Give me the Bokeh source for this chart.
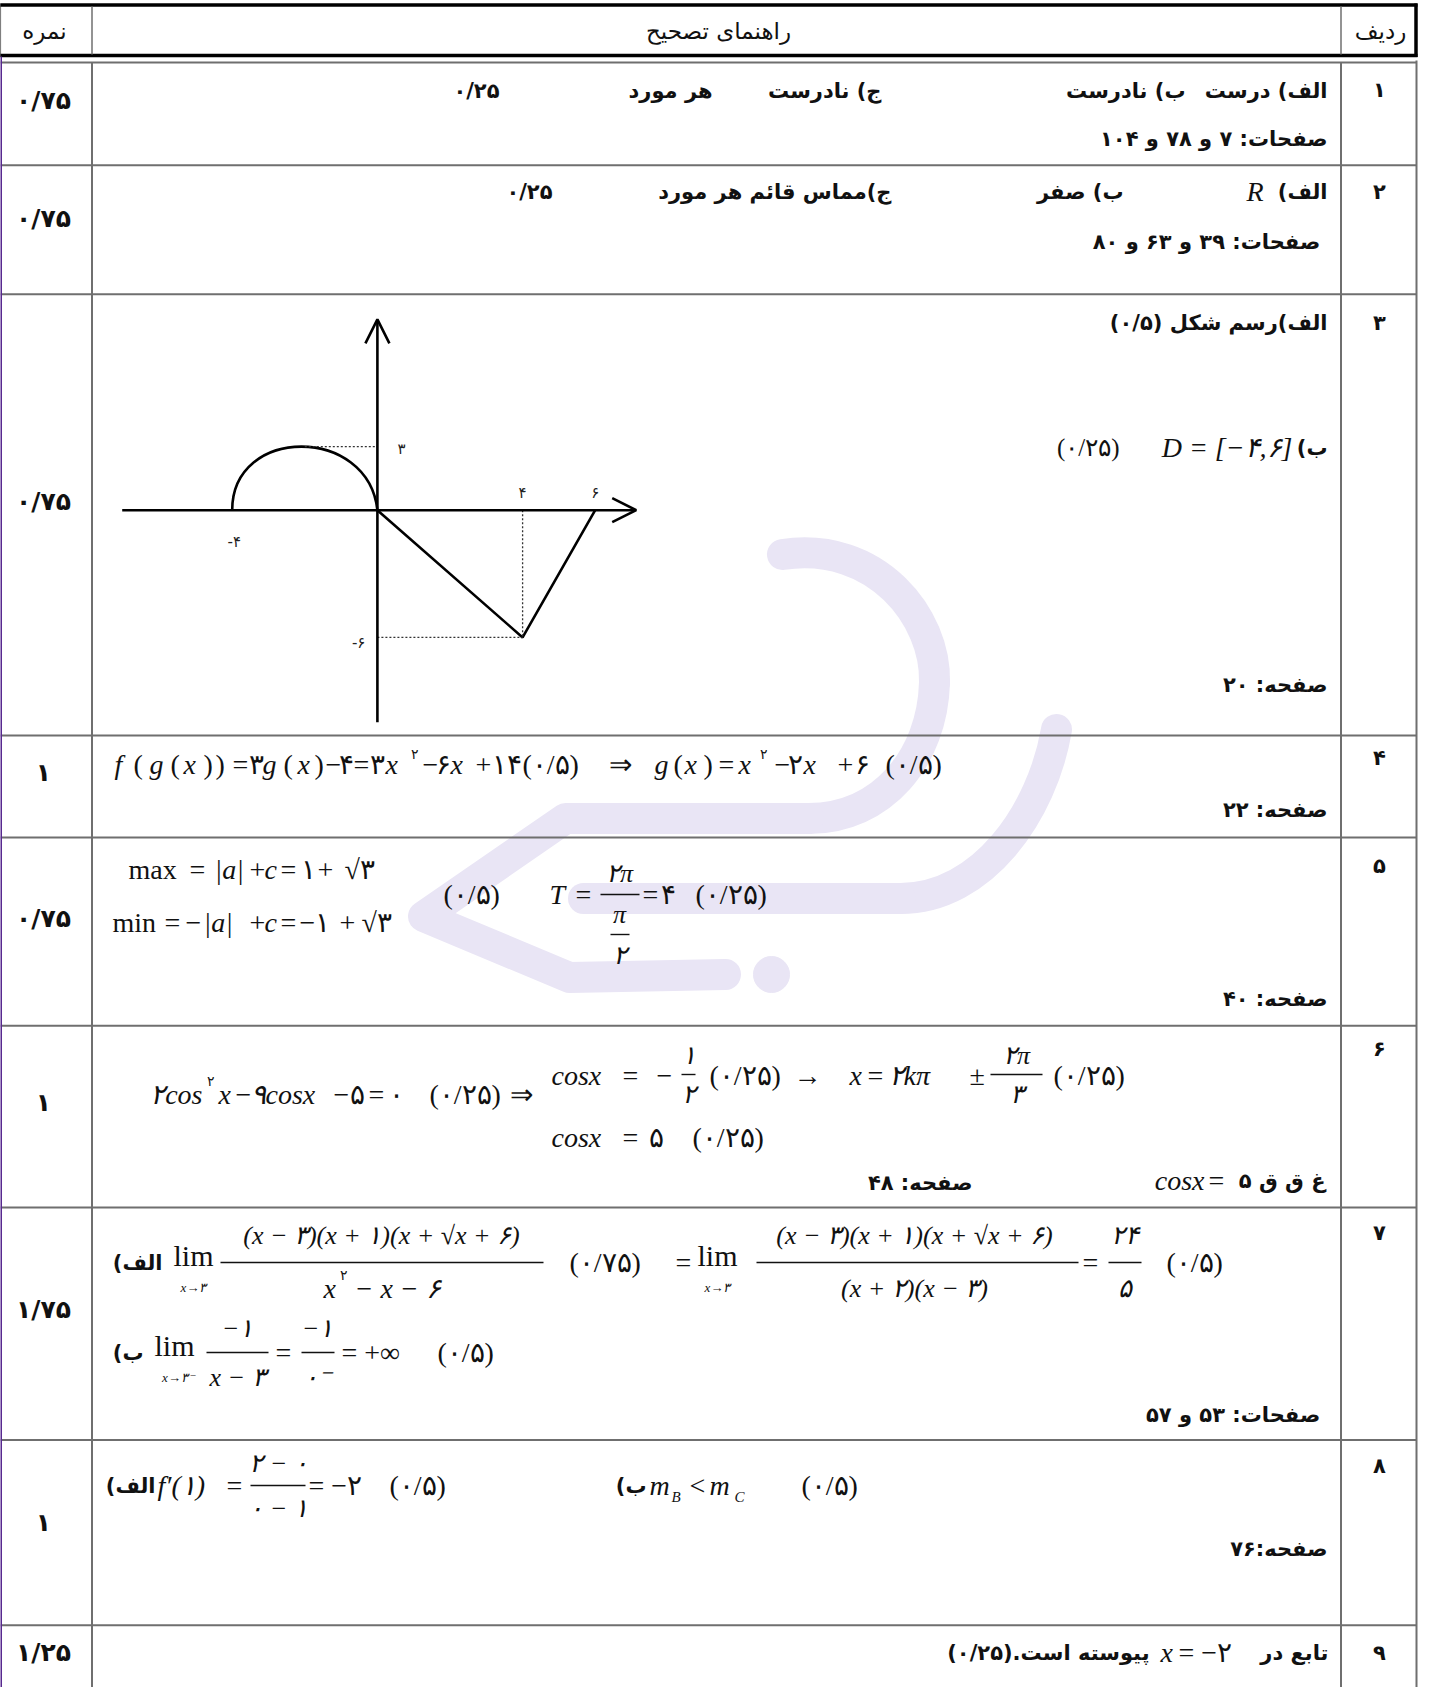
from bokeh.plotting import figure
from bokeh.models import Range1d, Arrow, OpenHead
from bokeh.core.properties import value
from bokeh.embed import file_html
from bokeh.resources import INLINE

# ------------------------------------------------------------------ data
# graph of question 3: an arch on [-4, 0] with height 3, then two line pieces
arch_x = [-4, 0]
arch_peak = 3
pieces_x = [0, 4, 6]
pieces_y = [0, -6, 0]
tick_x_vals = [-4, 4, 6]
tick_x_text = ["-۴", "۴", "۶"]
tick_y_vals = [3, -6]
tick_y_text = ["۳", "-۶"]

header = ["نمره", "راهنمای تصحیح", "ردیف"]
row_numbers = ["۱", "۲", "۳", "۴", "۵", "۶", "۷", "۸", "۹"]
row_scores = ["۰/۷۵", "۰/۷۵", "۰/۷۵", "۱", "۰/۷۵", "۱", "۱/۷۵", "۱", "۱/۲۵"]
page_refs = ["صفحات: ۷ و ۷۸ و ۱۰۴", "صفحات:  ۳۹ و ۶۳ و ۸۰", "صفحه: ۲۰", "صفحه: ۲۲",
             "صفحه: ۴۰", "صفحه: ۴۸", "صفحات:  ۵۳ و ۵۷", "صفحه:۷۶"]

# ------------------------------------------------------------------ layout
ROW_TOPS = [70, 172.7, 301.7, 743, 845, 1033.3, 1215, 1447.5, 1632.7]
ROW_NUM_Y = [97, 199, 330, 765, 873, 1056, 1240, 1473, 1660]
SCORE_Y = [108, 226, 509, 780, 926, 1110, 1317, 1530, 1660]
PAGE_REF_POS = [(1335, 146), (1335, 249), (1335, 692), (1335, 817), (1335, 1006),
                (980, 1190), (1335, 1422), (1335, 1556)]

FA = "DejaVu Sans"
MATH = "Liberation Serif"
RLE, PDF = "\u202b", "\u202c"
INK = "#111111"
GRID = "#6f6f6f"
WM = "#e9e5f5"
MS = 28  # math font size

p = figure(width=1421, height=1687, x_range=Range1d(8, 1429), y_range=Range1d(1695, 8),
           x_axis_type=None, y_axis_type=None, toolbar_location=None, output_backend="svg",
           min_border=0, outline_line_color=None, background_fill_color="white",
           border_fill_color="white")

# graph coordinate system (own ranges mapped onto the sketch area)
GX0, GSX = 384.9, 36.3
GY0, GSY = 517.7, 21.2
p.extra_x_ranges = {"g": Range1d((8 - GX0) / GSX, (1429 - GX0) / GSX)}
p.extra_y_ranges = {"g": Range1d(-(1695 - GY0) / GSY, (GY0 - 8) / GSY)}
G = dict(x_range_name="g", y_range_name="g")


def texts(items, size, font=FA, style="bold", align="right", color=INK, rtl=False, **kw):
    xs = [t[0] for t in items]
    ys = [t[1] for t in items]
    ts = [(RLE + t[2] + PDF) if rtl else t[2] for t in items]
    p.text(x=xs, y=ys, text=ts, text_font=value(font), text_font_size=value(f"{size}px"),
           text_font_style=style, text_align=align, text_baseline="middle",
           text_color=color, **kw)


def segs(lst, color, width, dash="solid", **kw):
    p.segment(x0=[s[0] for s in lst], y0=[s[1] for s in lst],
              x1=[s[2] for s in lst], y1=[s[3] for s in lst],
              line_color=color, line_width=width, line_dash=dash, **kw)


# ------------------------------------------------------------------ watermark
p.bezier(x0=[790, 942, 1064], y0=[562, 690, 737], x1=[942, 816, 908], y1=[690, 826, 906],
         cx0=[884, 940, 1050], cy0=[548, 765, 820], cx1=[944, 890, 990], cy1=[625, 826, 906],
         line_color=WM, line_width=31, line_cap="round")
p.line([816, 573, 431, 577, 733], [826, 826, 924, 985, 982], line_color=WM, line_width=31,
       line_cap="round", line_join="round")
p.line([908, 591], [906, 906], line_color=WM, line_width=31, line_cap="round")
p.scatter([779], [982], size=36, color=WM)

# ------------------------------------------------------------------ table
segs([(0, 1.8, 1437, 1.8)], "black", 4)
segs([(5, 12.5, 1425, 12.5), (5, 63, 1425, 63), (6.8, 11, 6.8, 64.5), (1423.5, 11, 1423.5, 64.5)],
     "black", 3.5)
segs([(99.5, 14, 99.5, 62), (1348.5, 14, 1348.5, 62)], GRID, 1.5)
segs([(8, y, 1424, y) for y in ROW_TOPS], GRID, 2)
segs([(99.5, 70, 99.5, 1703), (1348.5, 70, 1348.5, 1703), (1424, 68, 1424, 1703)], GRID, 2)
segs([(7, 64, 7, 1703)], "#57298f", 5)

# ------------------------------------------------------------------ graph (question 3)
peak_x = (arch_x[0] + arch_x[1]) / 2
ctrl = arch_peak * 4 / 3
p.bezier(x0=[arch_x[0]], y0=[0], x1=[arch_x[1]], y1=[0], cx0=[arch_x[0]], cy0=[ctrl],
         cx1=[arch_x[1] - 0.25], cy1=[ctrl], line_color="black", line_width=2.6, **G)
p.line(pieces_x, pieces_y, line_color="black", line_width=2.6, **G)
p.segment(x0=[peak_x, pieces_x[1], 0], y0=[arch_peak, 0, pieces_y[1]],
          x1=[0, pieces_x[1], pieces_x[1]], y1=[arch_peak, pieces_y[1], pieces_y[1]],
          line_color="#333333", line_width=1.3, line_dash="2 2", **G)
for xs, ys, xe, ye in [(-7.03, 0, 7.13, 0), (0, -10.0, 0, 9.0)]:
    p.add_layout(Arrow(x_start=xs, y_start=ys, x_end=xe, y_end=ye, line_width=2.6,
                       end=OpenHead(size=24, line_width=2.6), **G))
p.text(x=tick_x_vals, y=[0] * 3, text=tick_x_text, x_offset=[2, 0, 0], y_offset=[32, -17, -17],
       text_font=value(FA), text_font_size=value("15px"), text_align="center",
       text_baseline="middle", text_color="#222222", **G)
p.text(x=[0, 0], y=tick_y_vals, text=tick_y_text, x_offset=[20, -12], y_offset=[2, 6],
       text_font=value(FA), text_font_size=value("15px"), text_align=["left", "right"],
       text_baseline="middle", text_color="#222222", **G)

# ------------------------------------------------------------------ header, numbers, scores
texts([(52, 38, header[0]), (726, 38, header[1]), (1388, 38, header[2])], 23,
      style="normal", align="center", rtl=True)
texts([(1387, y, t) for y, t in zip(ROW_NUM_Y, row_numbers)], 21, align="center")
texts([(51, y, t) for y, t in zip(SCORE_Y, row_scores)], 25, align="center")
texts([(x, y, t) for (x, y), t in zip(PAGE_REF_POS, page_refs)], 21, rtl=True)

# ------------------------------------------------------------------ persian answer text
texts([
    (1335, 98, "الف) درست"), (1193, 98, "ب) نادرست"), (889, 98, "ج) نادرست"),
    (720, 98, "هر مورد"), (507, 98, "۰/۲۵"),
    (1335, 199, "الف)"), (1131, 199, "ب) صفر"), (899, 199, "ج)مماس قائم هر مورد"),
    (560, 199, "۰/۲۵"),
    (1335, 330, "الف)رسم شکل (۰/۵)"), (1335, 455, "ب)"),
    (1333, 1188, "غ ق ق ۵"),
    (170, 1270, "الف)"), (151, 1360, "ب)"),
    (163, 1493, "الف)"), (654, 1493, "ب)"),
    (1336, 1660, "تابع در"), (1157, 1660, "پیوسته است.(۰/۲۵)"),
], 21, rtl=True)

# ------------------------------------------------------------------ math tokens
IT_L = [
    # row 4
    (122, 772, "f"), (157, 772, "g"), (191, 772, "x"), (270, 772, "g"), (305, 772, "x"),
    (393, 772, "x"), (458, 772, "x"), (662, 772, "g"), (692, 772, "x"), (746, 772, "x"),
    (811, 772, "x"),
    # row 5
    (222, 877, "|a|"), (272, 877, "c"), (211, 930, "|a|"), (272, 930, "c"), (557, 902, "T"),
    # row 6
    (226, 1102, "x"), (258, 1102, "۹cosx"), (559, 1083, "cosx"), (857, 1083, "x"),
    (896, 1083, "۲kπ"), (559, 1145, "cosx"),
    # row 7
    (331, 1296, "x"), (362, 1296, "− x − ۶"),
    # row 8
    (165, 1493, "f′(۱)"), (657, 1493, "m"), (717, 1493, "m"),
    # row 9
    (1168, 1660, "x"),
]
UP_L = [
    # row 4
    (141, 772, "("), (178, 772, "("), (211, 772, ")"), (223, 772, ")"), (240, 772, "="),
    (256, 772, "۳"), (291, 772, "("), (322, 772, ")"), (333, 772, "−"), (346, 772, "۴"),
    (361, 772, "="), (377, 772, "۳"), (430, 772, "−"), (443, 772, "۶"), (483, 772, "+"),
    (499, 772, "۱۴"), (530, 772, "(۰/۵)"), (616, 772, "⇒"), (681, 772, "("), (711, 772, ")"),
    (726, 772, "="), (782, 772, "−"), (795, 772, "۲"), (845, 772, "+"), (862, 772, "۶"),
    (893, 772, "(۰/۵)"),
    # row 5
    (136, 877, "max"), (197, 877, "="), (257, 877, "+"), (288, 877, "="), (308, 877, "۱"),
    (325, 877, "+"), (352, 877, "√۳"),
    (120, 930, "min"), (172, 930, "="), (193, 930, "−"), (257, 930, "+"), (288, 930, "="),
    (307, 930, "−۱"), (347, 930, "+"), (369, 930, "√۳"),
    (451, 902, "(۰/۵)"), (583, 902, "="), (650, 902, "="), (668, 902, "۴"), (703, 902, "(۰/۲۵)"),
    # row 6
    (243, 1102, "−"), (341, 1102, "−"), (357, 1102, "۵"), (376, 1102, "="), (396, 1102, "۰"),
    (437, 1102, "(۰/۲۵)"), (517, 1102, "⇒"),
    (630, 1083, "="), (664, 1083, "−"), (717, 1083, "(۰/۲۵)"), (801, 1083, "→"),
    (875, 1083, "="), (977, 1083, "±"), (1061, 1083, "(۰/۲۵)"),
    (630, 1145, "="), (656, 1145, "۵"), (700, 1145, "(۰/۲۵)"),
    (1216, 1188, "="),
    # row 7
    (577, 1270, "(۰/۷۵)"), (683, 1270, "="), (1090, 1270, "="), (1174, 1270, "(۰/۵)"),
    (283, 1360, "="), (349, 1360, "= +∞"), (445, 1360, "(۰/۵)"),
    # row 8
    (234, 1493, "="), (316, 1493, "= −۲"), (397, 1493, "(۰/۵)"), (697, 1493, "<"),
    (809, 1493, "(۰/۵)"),
    # row 9
    (1186, 1660, "= −۲"),
]
texts(IT_L, MS, font=MATH, style="italic", align="left")
texts(UP_L, MS, font=MATH, style="normal", align="left")
texts([(210, 1102, "۲cos"), (1212, 1188, "cosx")], MS, font=MATH, style="italic", align="right")
texts([(1300, 455, "D = [−۴,۶]"), (1271, 199, "R")], MS, font=MATH, style="italic", align="right")
texts([(1127, 455, "(۰/۲۵)")], 25, font=MATH, style="normal", align="right")
texts([(181, 1263, "lim"), (705, 1263, "lim"), (162, 1353, "lim")], 30, font=MATH,
      style="normal", align="left")

# fractions: numerators / denominators (centred)
texts([
    (627, 881, "۲π"), (627, 922, "π"), (627, 963, "۲"),
    (696, 1063, "۱"), (696, 1102, "۲"), (1024, 1063, "۲π"), (1024, 1102, "۳"),
    (389, 1243, "(x − ۳)(x + ۱)(x + √x + ۶)"), (922, 1243, "(x − ۳)(x + ۱)(x + √x + ۶)"),
    (922, 1296, "(x + ۲)(x − ۳)"), (1132, 1243, "۲۴"), (1132, 1296, "۵"),
    (245, 1336, "−۱"), (245, 1385, "x − ۳"), (325, 1336, "−۱"), (325, 1385, "۰⁻"),
    (286, 1471, "۲ − ۰"), (286, 1516, "۰ − ۱"),
], 26, font=MATH, style="italic", align="center")

# small sub/superscripts
texts([
    (418, 762, "۲"), (767, 762, "۲"), (214, 1089, "۲"), (347, 1283, "۲"),
], 14, font=MATH, style="normal", align="left")
texts([
    (201, 1295, "x→۳"), (725, 1295, "x→۳"), (186, 1385, "x→۳⁻"),
], 13, font=MATH, style="italic", align="center")
texts([(679, 1504, "B"), (742, 1504, "C")], 15, font=MATH, style="italic", align="left")

# fraction bars
segs([
    (608, 902, 647, 902), (618, 942, 637, 942),
    (689, 1082, 703, 1082), (998, 1082, 1050, 1082),
    (228, 1270, 551, 1270), (764, 1270, 1086, 1270), (1116, 1270, 1149, 1270),
    (214, 1360, 276, 1360), (309, 1360, 342, 1360),
    (258, 1493, 313, 1493),
], INK, 1.4)

open("out.html", "w").write(file_html(p, INLINE))
